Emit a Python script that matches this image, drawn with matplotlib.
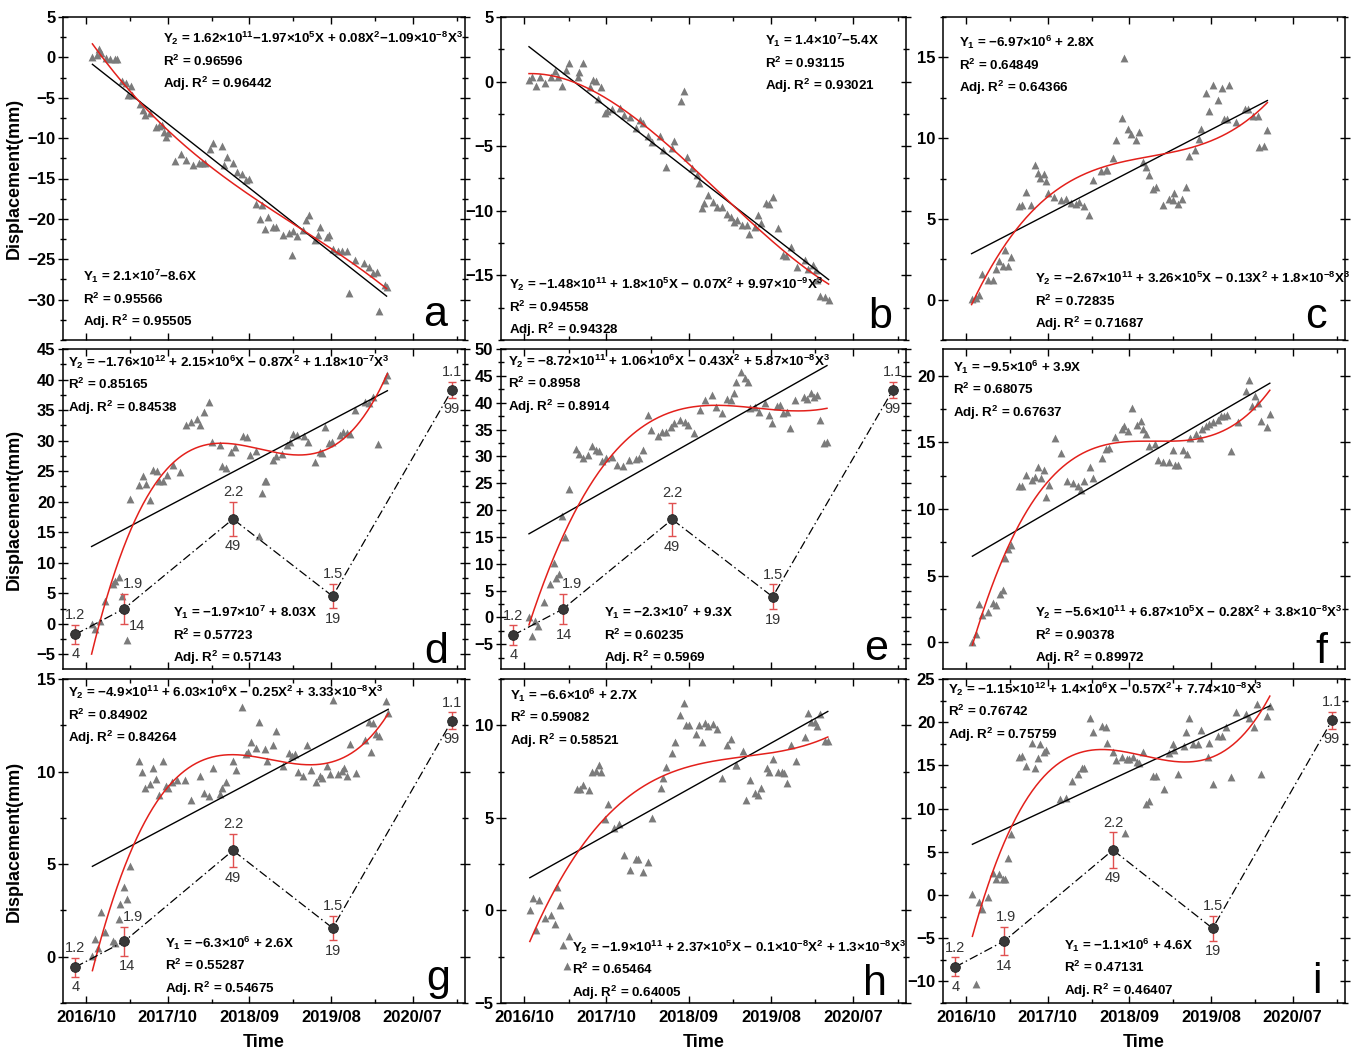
import numpy as np
import matplotlib
matplotlib.use('Agg')
import matplotlib.pyplot as plt
from matplotlib.ticker import MultipleLocator, FixedLocator

plt.rcParams['font.family'] = ['Liberation Sans', 'DejaVu Sans']
plt.rcParams['font.weight'] = 'bold'
plt.rcParams['mathtext.fontset'] = 'custom'
plt.rcParams['mathtext.rm'] = 'Liberation Sans:bold'
plt.rcParams['mathtext.it'] = 'Liberation Sans:bold'
plt.rcParams['mathtext.bf'] = 'Liberation Sans:bold'
plt.rcParams['mathtext.sf'] = 'Liberation Sans:bold'

# ---------------- data ----------------
time_ticks = [0, 1, 2, 3, 4]
time_labels = ['2016/10', '2017/10', '2018/09', '2019/08', '2020/07']

a_points = [(0.08,0.08),(0.13,0.29),(0.16,0.99),(0.19,0.5),(0.25,-0.12),(0.29,-0.25),(0.36,-0.25),(0.38,-0.25),
            (0.44,-2.89),(0.49,-3.14),(0.55,-3.55),(0.52,-4.67),(0.56,-4.67),(0.66,-5.79),(0.70,-6.53),(0.72,-7.15),
            (0.78,-6.94),(0.86,-8.6),(0.90,-8.5),(0.93,-8.4),(0.95,-9.3),(0.98,-9.8),(1.01,-9.4),(1.09,-12.8),
            (1.16,-12.0),(1.23,-12.7),(1.31,-13.3),(1.38,-13.1),(1.42,-13.1),(1.46,-13.1),(1.52,-11.3),(1.56,-10.6),
            (1.66,-10.95),(1.69,-13.3),(1.73,-12.3),(1.80,-13.1),(1.85,-14.2),(1.91,-14.5),(1.96,-15.2),(2.00,-15.0),
            (2.08,-18.1),(2.13,-20.0),(2.16,-18.3),(2.19,-21.3),(2.23,-19.8),(2.29,-21.0),(2.33,-21.0),(2.41,-22.0),
            (2.48,-21.8),(2.52,-24.5),(2.54,-21.5),(2.58,-22.1),(2.66,-21.4),(2.69,-20.2),(2.73,-19.5),(2.80,-22.6),
            (2.84,-22.0),(2.87,-21.0),(2.95,-22.2),(2.98,-22.0),(3.02,-23.7),(3.09,-24.0),(3.13,-24.0),(3.19,-24.0),
            (3.22,-29.2),(3.29,-25.1),(3.40,-25.5),(3.47,-25.95),(3.52,-26.7),(3.56,-26.6),(3.59,-31.4),(3.66,-28.2),
            (3.68,-28.4)]

b_points = [(0.06,0.10),(0.10,0.36),(0.14,-0.31),(0.19,0.34),(0.26,-0.10),(0.33,0.36),(0.37,0.80),(0.41,0.36),
            (0.46,-0.36),(0.51,0.88),(0.54,1.45),(0.65,0.36),(0.67,0.75),(0.72,1.45),(0.80,-0.41),(0.84,0.10),
            (0.87,0.03),(0.94,-0.41),(0.90,-1.32),(0.98,-2.44),(1.01,-2.31),(1.07,-2.12),(1.16,-2.05),(1.22,-2.56),
            (1.29,-2.75),(1.36,-3.60),(1.41,-3.01),(1.44,-3.21),(1.51,-4.20),(1.55,-4.64),(1.65,-4.20),(1.69,-5.28),
            (1.73,-6.58),(1.82,-4.56),(1.80,-5.16),(1.91,-1.53),(1.94,-0.75),(1.98,-5.80),(2.04,-6.71),(2.10,-7.23),
            (2.12,-7.88),(2.16,-9.82),(2.19,-9.43),(2.23,-8.78),(2.30,-9.30),(2.35,-9.69),(2.41,-9.69),(2.47,-10.21),
            (2.51,-10.47),(2.55,-10.85),(2.59,-10.73),(2.65,-11.11),(2.71,-11.11),(2.73,-11.76),(2.80,-11.24),
            (2.84,-10.34),(2.88,-10.98),(2.94,-9.43),(2.98,-9.48),(3.02,-8.96),(3.08,-11.32),(3.14,-13.45),
            (3.18,-13.52),(3.24,-12.80),(3.31,-14.35),(3.41,-13.83),(3.45,-14.48),(3.51,-14.22),(3.55,-14.61),
            (3.56,-15.34),(3.59,-16.63),(3.65,-16.68),(3.70,-16.89)]

c_points = [(0.07,0.04),(0.12,0.10),(0.16,0.31),(0.20,1.61),(0.27,1.20),(0.33,1.20),(0.37,1.90),(0.41,2.38),
            (0.45,2.07),(0.48,3.10),(0.51,2.07),(0.55,2.64),(0.65,5.79),(0.69,5.83),(0.73,6.65),(0.80,5.89),
            (0.84,8.33),(0.88,7.81),(0.91,7.54),(0.95,7.75),(0.98,7.33),(1.01,6.61),(1.08,6.36),(1.16,6.16),
            (1.22,6.24),(1.29,5.99),(1.35,5.95),(1.39,6.03),(1.44,5.79),(1.51,5.21),(1.55,7.40),(1.65,7.95),
            (1.71,8.02),(1.73,8.02),(1.80,8.78),(1.84,9.88),(1.91,11.24),(1.94,14.98),(1.98,10.54),(2.02,10.23),
            (2.08,9.88),(2.12,10.39),(2.17,8.51),(2.20,8.22),(2.24,7.71),(2.29,6.86),(2.33,6.98),(2.41,5.83),
            (2.49,6.20),(2.53,6.14),(2.55,6.61),(2.59,5.95),(2.65,6.20),(2.69,6.98),(2.73,8.88),(2.80,9.26),
            (2.85,9.96),(2.88,10.58),(2.94,12.77),(2.98,11.67),(3.02,13.26),(3.09,12.36),(3.13,13.12),(3.16,11.20),
            (3.20,11.20),(3.22,13.26),(3.31,10.99),(3.41,11.82),(3.45,11.78),(3.51,11.40),(3.57,11.36),(3.59,9.42),
            (3.65,9.50),(3.69,10.50)]

d_points = [(0.07,0.0),(0.11,-0.93),(0.17,0.44),(0.24,3.70),(0.33,6.54),(0.36,6.97),(0.40,7.63),(0.44,4.52),
            (0.50,-2.72),(0.54,20.48),(0.65,22.77),(0.70,24.13),(0.74,22.88),(0.79,20.32),(0.82,25.22),(0.87,24.95),
            (0.90,23.42),(0.94,23.31),(0.99,24.29),(1.07,25.93),(1.15,24.78),(1.22,32.57),(1.29,33.01),(1.36,33.55),
            (1.40,32.57),(1.44,34.75),(1.51,36.27),(1.54,29.85),(1.64,29.30),(1.67,25.76),(1.72,25.49),(1.78,28.10),
            (1.82,28.92),(1.92,30.83),(1.97,30.66),(2.01,27.67),(2.08,28.32),(2.12,14.32),(2.15,21.41),(2.19,23.31),
            (2.21,23.31),(2.29,26.85),(2.33,27.56),(2.40,27.78),(2.46,29.30),(2.50,29.85),(2.53,31.05),(2.58,30.94),
            (2.67,30.83),(2.72,29.85),(2.80,26.47),(2.86,28.21),(2.89,27.94),(2.93,32.30),(2.97,29.58),(3.01,29.85),
            (3.11,30.94),(3.15,31.48),(3.19,31.21),(3.23,31.05),(3.29,35.02),(3.42,36.38),(3.47,36.22),(3.52,37.20),
            (3.58,29.41),(3.66,39.92),(3.69,40.74)]

e_points = [(0.06,0.12),(0.10,-3.42),(0.13,-0.68),(0.17,-1.55),(0.24,2.92),(0.31,6.15),(0.36,10.06),(0.39,7.27),
            (0.43,8.01),(0.46,18.88),(0.50,15.03),(0.54,23.91),(0.63,31.37),(0.67,30.37),(0.72,29.75),(0.78,30.25),
            (0.82,31.99),(0.87,31.18),(0.91,30.99),(0.95,29.13),(0.99,29.63),(1.07,29.94),(1.13,28.39),(1.20,28.20),
            (1.27,29.32),(1.36,29.50),(1.40,29.75),(1.44,31.18),(1.51,37.70),(1.54,34.91),(1.63,33.85),(1.68,34.60),
            (1.72,34.60),(1.78,35.53),(1.82,36.15),(1.90,36.77),(1.95,36.34),(1.99,35.84),(2.07,34.29),(2.14,38.63),
            (2.20,40.50),(2.28,41.43),(2.33,39.25),(2.40,38.01),(2.47,40.68),(2.51,40.50),(2.55,41.74),(2.58,43.91),
            (2.64,45.65),(2.68,44.53),(2.72,43.91),(2.74,39.07),(2.80,39.25),(2.85,38.20),(2.93,39.88),(2.97,37.70),
            (3.01,36.15),(3.07,39.44),(3.11,39.57),(3.15,38.01),(3.19,38.20),(3.23,35.22),(3.29,40.50),(3.40,41.12),
            (3.44,40.68),(3.48,41.74),(3.52,41.12),(3.56,41.43),(3.59,36.77),(3.64,32.42),(3.68,32.61)]

f_points = [(0.08,0.0),(0.12,0.62),(0.16,2.85),(0.20,2.03),(0.27,2.28),(0.33,2.97),(0.37,2.77),(0.42,3.59),
            (0.45,3.96),(0.48,6.31),(0.51,6.98),(0.55,7.30),(0.65,11.76),(0.69,11.76),(0.73,12.57),(0.81,12.18),
            (0.84,12.43),(0.88,13.17),(0.92,12.33),(0.95,12.92),(0.98,10.89),(1.02,11.83),(1.09,15.30),(1.16,14.23),
            (1.24,12.08),(1.31,11.93),(1.37,11.76),(1.41,11.44),(1.45,12.13),(1.52,13.17),(1.56,12.33),(1.67,13.81),
            (1.71,14.48),(1.75,14.60),(1.83,15.40),(1.91,15.97),(1.94,16.21),(1.98,15.84),(2.03,17.57),(2.10,16.29),
            (2.14,16.63),(2.17,15.97),(2.20,15.59),(2.24,14.73),(2.31,14.85),(2.35,13.66),(2.41,13.49),(2.49,13.49),
            (2.53,14.41),(2.56,13.32),(2.60,13.32),(2.66,14.41),(2.71,14.11),(2.74,15.30),(2.82,15.59),(2.86,15.30),
            (2.89,15.97),(2.94,16.21),(2.98,16.34),(3.02,16.53),(3.08,16.71),(3.12,16.96),(3.16,16.96),(3.20,17.03),
            (3.24,14.36),(3.33,16.53),(3.43,18.86),(3.47,19.68),(3.50,17.70),(3.54,18.51),(3.57,17.95),(3.61,16.63),
            (3.68,16.14),(3.72,17.13)]

g_points = [(0.08,0.04),(0.11,0.94),(0.15,0.47),(0.19,2.41),(0.24,1.33),(0.33,0.83),(0.36,0.76),(0.40,2.05),
            (0.42,2.86),(0.47,3.76),(0.50,3.13),(0.54,4.89),(0.65,10.59),(0.69,10.0),(0.72,9.10),(0.78,9.33),
            (0.82,10.18),(0.86,9.60),(0.90,8.71),(0.94,10.59),(0.98,9.21),(1.01,9.10),(1.05,9.42),(1.11,9.57),
            (1.21,9.57),(1.29,8.44),(1.40,9.78),(1.44,8.85),(1.51,8.67),(1.55,10.18),(1.64,8.79),(1.67,9.10),
            (1.72,9.42),(1.80,10.59),(1.84,10.11),(1.91,13.47),(1.96,10.95),(1.99,11.08),(2.02,11.62),(2.08,11.26),
            (2.12,12.66),(2.19,11.22),(2.22,10.59),(2.29,11.44),(2.33,12.21),(2.41,10.29),(2.48,11.01),(2.52,10.83),
            (2.56,10.95),(2.59,10.0),(2.66,9.78),(2.71,11.44),(2.76,10.11),(2.82,9.46),(2.86,9.78),(2.89,9.64),
            (2.95,10.29),(2.99,9.87),(3.02,13.88),(3.09,9.87),(3.13,10.05),(3.16,10.18),(3.20,9.78),(3.23,11.49),
            (3.31,9.93),(3.42,11.73),(3.46,12.70),(3.49,11.08),(3.52,12.63),(3.55,12.03),(3.59,11.91),(3.67,13.83),
            (3.70,13.17)]

h_points = [(0.07,0.04),(0.11,0.66),(0.18,0.57),(0.15,-1.04),(0.26,-0.41),(0.33,-0.23),(0.37,-0.74),(0.40,1.24),
            (0.44,0.31),(0.47,-1.85),(0.52,-3.02),(0.55,-1.40),(0.64,6.55),(0.68,6.55),(0.72,6.77),(0.79,6.50),
            (0.83,7.49),(0.87,7.52),(0.91,7.88),(0.94,7.45),(0.98,4.94),(1.02,5.73),(1.09,4.47),(1.15,4.65),
            (1.22,3.0),(1.29,2.19),(1.36,2.78),(1.39,2.78),(1.44,2.06),(1.51,2.60),(1.55,4.97),(1.66,6.62),
            (1.69,7.13),(1.73,7.76),(1.80,8.53),(1.83,9.10),(1.90,10.54),(1.94,11.22),(1.97,10.04),(2.00,10.0),
            (2.09,9.55),(2.13,10.04),(2.16,9.10),(2.20,10.14),(2.24,9.96),(2.30,10.09),(2.34,9.82),(2.40,7.13),
            (2.47,8.96),(2.51,9.28),(2.57,7.85),(2.58,7.85),(2.66,8.60),(2.70,5.96),(2.74,7.04),(2.80,6.32),
            (2.84,6.23),(2.88,6.59),(2.95,7.70),(2.98,7.45),(3.02,8.17),(3.08,7.45),(3.13,7.45),(3.16,7.40),
            (3.20,6.86),(3.24,8.96),(3.30,8.06),(3.41,9.37),(3.45,10.68),(3.49,10.18),(3.53,10.18),(3.56,9.96),
            (3.59,10.63),(3.66,9.14),(3.69,9.14)]

i_points = [(0.08,0.08),(0.12,-10.26),(0.16,-0.77),(0.20,-1.66),(0.27,-0.23),(0.33,2.58),(0.37,1.81),(0.41,2.47),
            (0.45,1.81),(0.48,1.81),(0.51,4.24),(0.55,7.10),(0.65,15.97),(0.69,16.09),(0.73,14.93),(0.81,17.63),
            (0.84,14.74),(0.88,15.82),(0.91,17.44),(0.95,16.59),(0.98,16.74),(1.15,11.07),(1.22,11.27),(1.30,13.19),
            (1.37,14.04),(1.42,14.66),(1.45,14.66),(1.52,20.45),(1.56,18.90),(1.67,19.56),(1.71,19.48),(1.73,17.63),
            (1.80,16.59),(1.84,15.59),(1.91,15.97),(1.95,7.2),(1.97,15.70),(2.00,15.70),(2.04,15.97),(2.10,15.43),
            (2.12,15.32),(2.17,16.59),(2.20,10.49),(2.24,10.88),(2.29,13.77),(2.33,13.77),(2.42,12.23),(2.49,16.47),
            (2.53,17.52),(2.55,16.74),(2.60,13.97),(2.67,17.25),(2.69,18.90),(2.73,20.45),(2.78,17.52),(2.84,17.52),
            (2.88,19.06),(2.96,15.97),(2.98,17.63),(3.03,12.89),(3.09,18.40),(3.13,18.40),(3.18,19.44),(3.24,13.66),
            (3.31,21.22),(3.43,20.91),(3.47,20.52),(3.53,19.44),(3.56,22.15),(3.61,13.97),(3.68,20.72),(3.72,21.88)]

# error-bar series (mean displacement with spread), shared time positions
err_t = [-0.13, 0.47, 1.80, 3.02, 4.48]
err_top_labels = ['1.2', '1.9', '2.2', '1.5', '1.1']
err_bottom_labels = ['4', '14', '49', '19', '99']
d_mean = [-1.74, 2.5, 17.16, 4.52, 38.29]
d_err = [1.5, 2.45, 2.75, 2.0, 1.35]
e_mean = [-3.29, 1.55, 18.26, 3.85, 42.36]
e_err = [1.8, 2.8, 3.1, 2.3, 1.55]
g_mean = [-0.56, 0.83, 5.74, 1.55, 12.75]
g_err = [0.51, 0.78, 0.9, 0.66, 0.45]
i_mean = [-8.33, -5.32, 5.21, -3.86, 20.2]
i_err = [1.1, 1.66, 2.03, 1.41, 0.96]

# equation texts
eq = {
 'a': (['$Y_2$ = 1.62×10$^{11}$−1.97×10$^{5}$X + 0.08X$^{2}$−1.09×10$^{-8}$X$^{3}$', 'R$^{2}$ = 0.96596', 'Adj. R$^{2}$ = 0.96442'],
       ['$Y_1$ = 2.1×10$^{7}$−8.6X', 'R$^{2}$ = 0.95566', 'Adj. R$^{2}$ = 0.95505']),
 'b': (['$Y_1$ = 1.4×10$^{7}$−5.4X', 'R$^{2}$ = 0.93115', 'Adj. R$^{2}$ = 0.93021'],
       ['$Y_2$ = −1.48×10$^{11}$ + 1.8×10$^{5}$X − 0.07X$^{2}$ + 9.97×10$^{-9}$X$^{3}$', 'R$^{2}$ = 0.94558', 'Adj. R$^{2}$ = 0.94328']),
 'c': (['$Y_1$ = −6.97×10$^{6}$ + 2.8X', 'R$^{2}$ = 0.64849', 'Adj. R$^{2}$ = 0.64366'],
       ['$Y_2$ = −2.67×10$^{11}$ + 3.26×10$^{5}$X − 0.13X$^{2}$ + 1.8×10$^{-8}$X$^{3}$', 'R$^{2}$ = 0.72835', 'Adj. R$^{2}$ = 0.71687']),
 'd': (['$Y_2$ = −1.76×10$^{12}$ + 2.15×10$^{6}$X − 0.87X$^{2}$ + 1.18×10$^{-7}$X$^{3}$', 'R$^{2}$ = 0.85165', 'Adj. R$^{2}$ = 0.84538'],
       ['$Y_1$ = −1.97×10$^{7}$ + 8.03X', 'R$^{2}$ = 0.57723', 'Adj. R$^{2}$ = 0.57143']),
 'e': (['$Y_2$ = −8.72×10$^{11}$ + 1.06×10$^{6}$X − 0.43X$^{2}$ + 5.87×10$^{-8}$X$^{3}$', 'R$^{2}$ = 0.8958', 'Adj. R$^{2}$ = 0.8914'],
       ['$Y_1$ = −2.3×10$^{7}$ + 9.3X', 'R$^{2}$ = 0.60235', 'Adj. R$^{2}$ = 0.5969']),
 'f': (['$Y_1$ = −9.5×10$^{6}$ + 3.9X', 'R$^{2}$ = 0.68075', 'Adj. R$^{2}$ = 0.67637'],
       ['$Y_2$ = −5.6×10$^{11}$ + 6.87×10$^{5}$X − 0.28X$^{2}$ + 3.8×10$^{-8}$X$^{3}$', 'R$^{2}$ = 0.90378', 'Adj. R$^{2}$ = 0.89972']),
 'g': (['$Y_2$ = −4.9×10$^{11}$ + 6.03×10$^{6}$X − 0.25X$^{2}$ + 3.33×10$^{-8}$X$^{3}$', 'R$^{2}$ = 0.84902', 'Adj. R$^{2}$ = 0.84264'],
       ['$Y_1$ = −6.3×10$^{6}$ + 2.6X', 'R$^{2}$ = 0.55287', 'Adj. R$^{2}$ = 0.54675']),
 'h': (['$Y_1$ = −6.6×10$^{6}$ + 2.7X', 'R$^{2}$ = 0.59082', 'Adj. R$^{2}$ = 0.58521'],
       ['$Y_2$ = −1.9×10$^{11}$ + 2.37×10$^{5}$X − 0.1×10$^{-8}$X$^{2}$ + 1.3×10$^{-8}$X$^{3}$', 'R$^{2}$ = 0.65464', 'Adj. R$^{2}$ = 0.64005']),
 'i': (['$Y_2$ = −1.15×10$^{12}$ + 1.4×10$^{6}$X − 0.57X$^{2}$ + 7.74×10$^{-8}$X$^{3}$', 'R$^{2}$ = 0.76742', 'Adj. R$^{2}$ = 0.75759'],
       ['$Y_1$ = −1.1×10$^{6}$ + 4.6X', 'R$^{2}$ = 0.47131', 'Adj. R$^{2}$ = 0.46407']),
}

# ---------------- layout (pixel boxes: left, top, right, bottom) ----------------
W, H = 1352, 1052
fig = plt.figure(figsize=(W / 100, H / 100), dpi=100)

boxes = {'a': (63, 17, 465, 340), 'b': (501, 17, 906, 340), 'c': (943, 17, 1345, 340),
         'd': (63, 349, 465, 669), 'e': (501, 349, 906, 669), 'f': (943, 349, 1345, 669),
         'g': (63, 679, 465, 1003), 'h': (501, 679, 906, 1003), 'i': (943, 679, 1345, 1003)}
ylims = {'a': (-35, 5), 'b': (-20, 5), 'c': (-2.5, 17.5), 'd': (-7.4, 45), 'e': (-9.6, 50),
         'f': (-2, 22), 'g': (-2.5, 15), 'h': (-5, 12.5), 'i': (-12.5, 25)}
yticks = {'a': [-30, -25, -20, -15, -10, -5, 0, 5], 'b': [-15, -10, -5, 0, 5], 'c': [0, 5, 10, 15],
          'd': [-5, 0, 5, 10, 15, 20, 25, 30, 35, 40, 45], 'e': [-5, 0, 5, 10, 15, 20, 25, 30, 35, 40, 45, 50],
          'f': [0, 5, 10, 15, 20], 'g': [0, 5, 10, 15], 'h': [-5, 0, 5, 10], 'i': [-10, -5, 0, 5, 10, 15, 20, 25]}
# equation block anchors: (x, first baseline) in pixels for block 1 and block 2
eq_pos = {'a': ((163, 43), (83, 281)), 'b': ((765, 45), (509, 289)), 'c': ((959, 47), (1035, 283)),
          'd': ((68, 367), (173, 617)), 'e': ((508, 366), (604, 617)), 'f': ((953, 372), (1035, 617)),
          'g': ((68, 697), (165, 948)), 'h': ((510, 700), (572, 952)), 'i': ((948, 694), (1064, 950))}
letter_pos = {'a': (447, 326), 'b': (892, 328), 'c': (1327, 328), 'd': (448, 663), 'e': (888, 660),
              'f': (1327, 663), 'g': (450, 990), 'h': (887, 995), 'i': (1322, 993)}

points = {'a': a_points, 'b': b_points, 'c': c_points, 'd': d_points, 'e': e_points,
          'f': f_points, 'g': g_points, 'h': h_points, 'i': i_points}
err_series = {'d': (d_mean, d_err), 'e': (e_mean, e_err), 'g': (g_mean, g_err), 'i': (i_mean, i_err)}
# label offsets (points) for the second error point
top_off = {'d': (6.5, 2), 'e': (7, 2), 'g': (6.5, 2), 'i': (1.5, 2)}
bot_off = {'d': (9.5, -1.5, 'center'), 'e': (1, -2.5, 'top'), 'g': (2, -2.5, 'top'), 'i': (0, -2.5, 'top')}

EQ_FS = 9.6


def ftext(px, py, s, **kw):
    fig.text(px / W, 1 - py / H, s, **kw)


for key in 'abcdefghi':
    l, t, r, b = boxes[key]
    ax = fig.add_axes([l / W, 1 - b / H, (r - l) / W, (b - t) / H])
    pts = np.array(points[key])
    tx, ty = pts[:, 0], pts[:, 1]
    ax.scatter(tx, ty, marker='^', s=32, color='#7b7b7b', linewidths=0, zorder=2)
    tt = np.linspace(tx.min(), tx.max(), 300)
    p1 = np.polyfit(tx, ty, 1)
    p3 = np.polyfit(tx, ty, 3)
    ax.plot(tt, np.polyval(p1, tt), color='black', lw=1.0, zorder=3)
    ax.plot(tt, np.polyval(p3, tt), color='#e3201b', lw=1.1, zorder=4)

    if key in err_series:
        m, e = err_series[key]
        ax.plot(err_t, m, color='black', lw=0.9, ls=(0, (7, 2.5, 1.2, 2.5)), zorder=5)
        ax.errorbar(err_t, m, yerr=e, fmt='none', ecolor='#e05050', elinewidth=1.0, capsize=3,
                    capthick=1.0, zorder=6)
        ax.plot(err_t, m, 'o', ms=7, mfc='#383838', mec='#222222', mew=0.6, zorder=7)
        for k in range(5):
            dx_t, dy_t = (top_off[key] if k == 1 else (0, 2))
            bx, by, bva = (bot_off[key] if k == 1 else (0, -2.5, 'top'))
            ax.annotate(err_top_labels[k], (err_t[k], m[k] + e[k]), xytext=(dx_t, dy_t),
                        textcoords='offset points', ha='center', va='bottom', fontsize=10.5,
                        fontweight='normal', color='#333333', annotation_clip=False, zorder=8)
            ax.annotate(err_bottom_labels[k], (err_t[k], m[k] - e[k]), xytext=(bx, by),
                        textcoords='offset points', ha='center', va=bva, fontsize=10.5,
                        fontweight='normal', color='#333333', annotation_clip=False, zorder=8)

    ax.set_xlim(-0.28, 4.64)
    ax.set_ylim(*ylims[key])
    ax.set_xticks(time_ticks)
    ax.xaxis.set_minor_locator(FixedLocator([0.54, 1.54, 2.54, 3.54, 4.54]))
    ax.set_yticks(yticks[key])
    ax.yaxis.set_minor_locator(MultipleLocator(2.5))
    ax.tick_params(axis='x', which='both', direction='in', top=True, bottom=True, width=1.0)
    ax.tick_params(axis='x', which='major', length=5, pad=5, labelsize=12)
    ax.tick_params(axis='x', which='minor', length=3)
    ax.tick_params(axis='y', which='both', direction='inout', left=True, right=True, width=1.0)
    ax.tick_params(axis='y', which='major', length=7, pad=2, labelsize=12)
    ax.tick_params(axis='y', which='minor', length=4)
    for sp in ax.spines.values():
        sp.set_linewidth(1.1)
    if key in 'ghi':
        ax.set_xticklabels(time_labels)
        ax.set_xlabel('Time', fontsize=13, fontweight='bold')
        ax.xaxis.set_label_coords(0.5, -0.095)
    else:
        ax.set_xticklabels([])
    if key in 'adg':
        ax.set_ylabel('Displacement(mm)', fontsize=13, fontweight='bold')
        ax.yaxis.set_label_coords(-0.1, 0.5)

    (x1, y1), (x2, y2) = eq_pos[key]
    blk1, blk2 = eq[key]
    for j, s in enumerate(blk1):
        ftext(x1, y1 + j * 22.5, s, fontsize=EQ_FS, fontweight='bold', va='baseline', ha='left')
    for j, s in enumerate(blk2):
        ftext(x2, y2 + j * 22.5, s, fontsize=EQ_FS, fontweight='bold', va='baseline', ha='left')
    lx, ly = letter_pos[key]
    ftext(lx, ly, key, fontsize=31, fontweight='normal', va='baseline', ha='right')

fig.savefig('out.png', dpi=100)
